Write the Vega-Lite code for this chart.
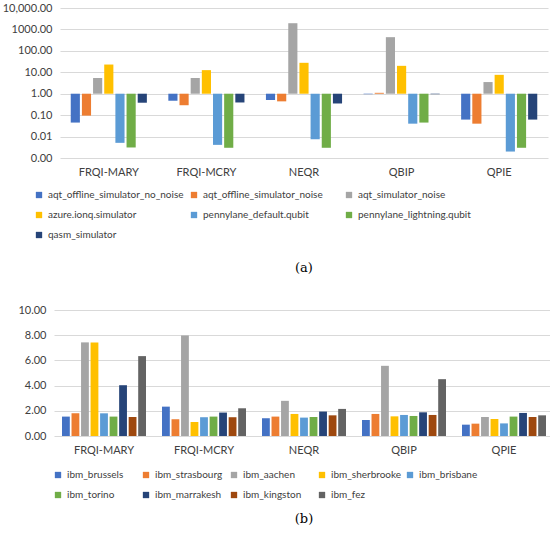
{
  "$schema": "https://vega.github.io/schema/vega-lite/v6.json",
  "padding": {"left": 2, "top": 2, "right": 2, "bottom": 2},
  "background": "white",
  "config": {
    "font": "Lato",
    "view": {"stroke": null},
    "axis": {"labelFont": "Lato", "labelFontSize": 11, "labelColor": "#404040", "domain": false, "ticks": false, "title": null, "gridColor": "#d9d9d9"},
    "legend": {"labelFont": "Lato", "labelFontSize": 10, "labelColor": "#404040", "symbolType": "square", "symbolSize": 40, "symbolStrokeWidth": 0, "title": null, "gridAlign": "all", "rowPadding": 10, "columnPadding": 5, "labelOffset": 4, "labelLimit": 300, "direction": "horizontal"},
    "title": {"font": "DejaVu Serif", "fontSize": 13, "fontWeight": "normal", "color": "#000000"}
  },
  "datasets": {
    "a": [
      {"alg": "FRQI-MARY", "backend": "aqt_offline_simulator_no_noise", "value": 0.045},
      {"alg": "FRQI-MARY", "backend": "aqt_offline_simulator_noise", "value": 0.095},
      {"alg": "FRQI-MARY", "backend": "aqt_simulator_noise", "value": 5.4},
      {"alg": "FRQI-MARY", "backend": "azure.ionq.simulator", "value": 23},
      {"alg": "FRQI-MARY", "backend": "pennylane_default.qubit", "value": 0.0051},
      {"alg": "FRQI-MARY", "backend": "pennylane_lightning.qubit", "value": 0.0031},
      {"alg": "FRQI-MARY", "backend": "qasm_simulator", "value": 0.38},
      {"alg": "FRQI-MCRY", "backend": "aqt_offline_simulator_no_noise", "value": 0.47},
      {"alg": "FRQI-MCRY", "backend": "aqt_offline_simulator_noise", "value": 0.29},
      {"alg": "FRQI-MCRY", "backend": "aqt_simulator_noise", "value": 5.4},
      {"alg": "FRQI-MCRY", "backend": "azure.ionq.simulator", "value": 12.6},
      {"alg": "FRQI-MCRY", "backend": "pennylane_default.qubit", "value": 0.0041},
      {"alg": "FRQI-MCRY", "backend": "pennylane_lightning.qubit", "value": 0.003},
      {"alg": "FRQI-MCRY", "backend": "qasm_simulator", "value": 0.39},
      {"alg": "NEQR", "backend": "aqt_offline_simulator_no_noise", "value": 0.51},
      {"alg": "NEQR", "backend": "aqt_offline_simulator_noise", "value": 0.44},
      {"alg": "NEQR", "backend": "aqt_simulator_noise", "value": 1950},
      {"alg": "NEQR", "backend": "azure.ionq.simulator", "value": 27.7},
      {"alg": "NEQR", "backend": "pennylane_default.qubit", "value": 0.0075},
      {"alg": "NEQR", "backend": "pennylane_lightning.qubit", "value": 0.003},
      {"alg": "NEQR", "backend": "qasm_simulator", "value": 0.35},
      {"alg": "QBIP", "backend": "aqt_offline_simulator_no_noise", "value": 0.95},
      {"alg": "QBIP", "backend": "aqt_offline_simulator_noise", "value": 1.1},
      {"alg": "QBIP", "backend": "aqt_simulator_noise", "value": 435},
      {"alg": "QBIP", "backend": "azure.ionq.simulator", "value": 20},
      {"alg": "QBIP", "backend": "pennylane_default.qubit", "value": 0.04},
      {"alg": "QBIP", "backend": "pennylane_lightning.qubit", "value": 0.045},
      {"alg": "QBIP", "backend": "qasm_simulator", "value": 0.95},
      {"alg": "QPIE", "backend": "aqt_offline_simulator_no_noise", "value": 0.062},
      {"alg": "QPIE", "backend": "aqt_offline_simulator_noise", "value": 0.04},
      {"alg": "QPIE", "backend": "aqt_simulator_noise", "value": 3.5},
      {"alg": "QPIE", "backend": "azure.ionq.simulator", "value": 7.6},
      {"alg": "QPIE", "backend": "pennylane_default.qubit", "value": 0.002},
      {"alg": "QPIE", "backend": "pennylane_lightning.qubit", "value": 0.003},
      {"alg": "QPIE", "backend": "qasm_simulator", "value": 0.062}
    ],
    "b": [
      {"alg": "FRQI-MARY", "backend": "ibm_brussels", "value": 1.54},
      {"alg": "FRQI-MARY", "backend": "ibm_strasbourg", "value": 1.8},
      {"alg": "FRQI-MARY", "backend": "ibm_aachen", "value": 7.43},
      {"alg": "FRQI-MARY", "backend": "ibm_sherbrooke", "value": 7.43},
      {"alg": "FRQI-MARY", "backend": "ibm_brisbane", "value": 1.8},
      {"alg": "FRQI-MARY", "backend": "ibm_torino", "value": 1.54},
      {"alg": "FRQI-MARY", "backend": "ibm_marrakesh", "value": 4.03},
      {"alg": "FRQI-MARY", "backend": "ibm_kingston", "value": 1.51},
      {"alg": "FRQI-MARY", "backend": "ibm_fez", "value": 6.34},
      {"alg": "FRQI-MCRY", "backend": "ibm_brussels", "value": 2.33},
      {"alg": "FRQI-MCRY", "backend": "ibm_strasbourg", "value": 1.33},
      {"alg": "FRQI-MCRY", "backend": "ibm_aachen", "value": 7.98},
      {"alg": "FRQI-MCRY", "backend": "ibm_sherbrooke", "value": 1.11},
      {"alg": "FRQI-MCRY", "backend": "ibm_brisbane", "value": 1.49},
      {"alg": "FRQI-MCRY", "backend": "ibm_torino", "value": 1.54},
      {"alg": "FRQI-MCRY", "backend": "ibm_marrakesh", "value": 1.86},
      {"alg": "FRQI-MCRY", "backend": "ibm_kingston", "value": 1.49},
      {"alg": "FRQI-MCRY", "backend": "ibm_fez", "value": 2.2},
      {"alg": "NEQR", "backend": "ibm_brussels", "value": 1.41},
      {"alg": "NEQR", "backend": "ibm_strasbourg", "value": 1.54},
      {"alg": "NEQR", "backend": "ibm_aachen", "value": 2.79},
      {"alg": "NEQR", "backend": "ibm_sherbrooke", "value": 1.75},
      {"alg": "NEQR", "backend": "ibm_brisbane", "value": 1.46},
      {"alg": "NEQR", "backend": "ibm_torino", "value": 1.51},
      {"alg": "NEQR", "backend": "ibm_marrakesh", "value": 1.94},
      {"alg": "NEQR", "backend": "ibm_kingston", "value": 1.64},
      {"alg": "NEQR", "backend": "ibm_fez", "value": 2.15},
      {"alg": "QBIP", "backend": "ibm_brussels", "value": 1.27},
      {"alg": "QBIP", "backend": "ibm_strasbourg", "value": 1.75},
      {"alg": "QBIP", "backend": "ibm_aachen", "value": 5.57},
      {"alg": "QBIP", "backend": "ibm_sherbrooke", "value": 1.56},
      {"alg": "QBIP", "backend": "ibm_brisbane", "value": 1.67},
      {"alg": "QBIP", "backend": "ibm_torino", "value": 1.59},
      {"alg": "QBIP", "backend": "ibm_marrakesh", "value": 1.88},
      {"alg": "QBIP", "backend": "ibm_kingston", "value": 1.67},
      {"alg": "QBIP", "backend": "ibm_fez", "value": 4.51},
      {"alg": "QPIE", "backend": "ibm_brussels", "value": 0.9},
      {"alg": "QPIE", "backend": "ibm_strasbourg", "value": 0.98},
      {"alg": "QPIE", "backend": "ibm_aachen", "value": 1.51},
      {"alg": "QPIE", "backend": "ibm_sherbrooke", "value": 1.35},
      {"alg": "QPIE", "backend": "ibm_brisbane", "value": 1.0},
      {"alg": "QPIE", "backend": "ibm_torino", "value": 1.54},
      {"alg": "QPIE", "backend": "ibm_marrakesh", "value": 1.83},
      {"alg": "QPIE", "backend": "ibm_kingston", "value": 1.51},
      {"alg": "QPIE", "backend": "ibm_fez", "value": 1.64}
    ]
  },
  "vconcat": [
    {
      "data": {"name": "a"},
      "width": 488,
      "height": 150,
      "title": {"text": "(a)", "orient": "bottom", "offset": 22},
      "mark": {"type": "bar"},
      "encoding": {
        "x": {"field": "alg", "type": "nominal", "sort": null, "scale": {"paddingInner": 0.22, "paddingOuter": 0.11}, "axis": {"labelAngle": 0, "labelPadding": 8, "grid": false}},
        "xOffset": {"field": "backend", "type": "nominal", "sort": null, "scale": {"paddingInner": 0.18}},
        "y": {"field": "value", "type": "quantitative", "scale": {"type": "log", "domain": [0.001, 10000]}, "axis": {"values": [0.001, 0.01, 0.1, 1, 10, 100, 1000, 10000], "labelExpr": "datum.value >= 10000 ? '10,000.00' : format(datum.value, '.2f')", "labelPadding": 8}},
        "y2": {"datum": 1},
        "color": {
          "field": "backend", "type": "nominal",
          "scale": {
            "domain": ["aqt_offline_simulator_no_noise", "aqt_offline_simulator_noise", "aqt_simulator_noise", "azure.ionq.simulator", "pennylane_default.qubit", "pennylane_lightning.qubit", "qasm_simulator"],
            "range": ["#4472C4", "#ED7D31", "#A5A5A5", "#FFC000", "#5B9BD5", "#70AD47", "#264478"]
          },
          "legend": {"columns": 3, "orient": "none", "direction": "horizontal", "legendX": -26, "legendY": 182}
        }
      }
    },
    {
      "data": {"name": "b"},
      "width": 500,
      "height": 126,
      "title": {"text": "(b)", "orient": "bottom", "offset": 13},
      "mark": {"type": "bar"},
      "encoding": {
        "x": {"field": "alg", "type": "nominal", "sort": null, "scale": {"paddingInner": 0.16, "paddingOuter": 0.08}, "axis": {"labelAngle": 0, "labelPadding": 8, "grid": false}},
        "xOffset": {"field": "backend", "type": "nominal", "sort": null, "scale": {"paddingInner": 0.18}},
        "y": {"field": "value", "type": "quantitative", "scale": {"domain": [0, 10]}, "axis": {"values": [0, 2, 4, 6, 8, 10], "format": ".2f", "labelPadding": 8}},
        "color": {
          "field": "backend", "type": "nominal",
          "scale": {
            "domain": ["ibm_brussels", "ibm_strasbourg", "ibm_aachen", "ibm_sherbrooke", "ibm_brisbane", "ibm_torino", "ibm_marrakesh", "ibm_kingston", "ibm_fez"],
            "range": ["#4472C4", "#ED7D31", "#A5A5A5", "#FFC000", "#5B9BD5", "#70AD47", "#264478", "#9E480E", "#636363"]
          },
          "legend": {"columns": 5, "orient": "none", "direction": "horizontal", "legendX": -1, "legendY": 160, "columnPadding": 3}
        }
      }
    }
  ],
  "spacing": 29,
  "center": true,
  "bounds": "full",
  "resolve": {"scale": {"color": "independent", "x": "independent", "xOffset": "independent", "y": "independent"}, "legend": {"color": "independent"}}
}
